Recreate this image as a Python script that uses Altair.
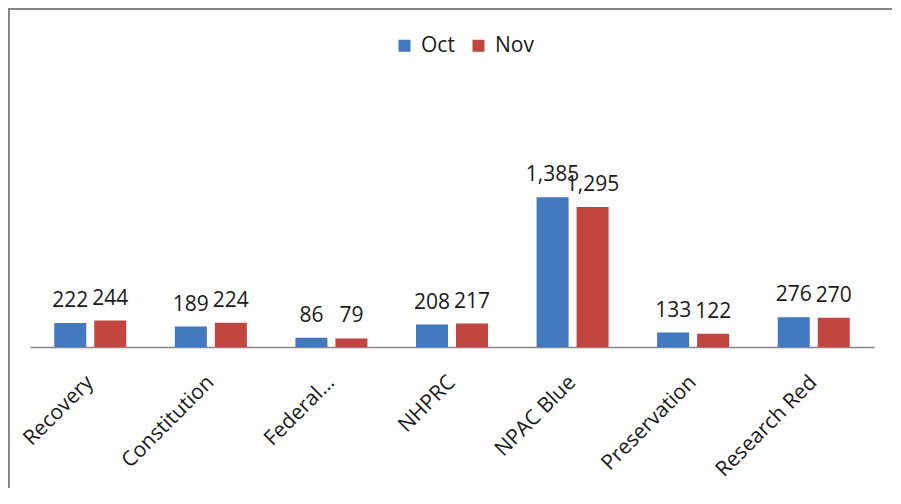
import altair as alt
import pandas as pd

categories = ["Recovery", "Constitution", "Federal…", "NHPRC", "NPAC Blue", "Preservation", "Research Red"]
months = ["Oct", "Nov"]
oct_values = [222, 189, 86, 208, 1385, 133, 276]
nov_values = [244, 224, 79, 217, 1295, 122, 270]
colors = ["#4279BE", "#C0463F"]

rows = []
for c, o, n in zip(categories, oct_values, nov_values):
    rows.append({"category": c, "month": "Oct", "value": o})
    rows.append({"category": c, "month": "Nov", "value": n})
df = pd.DataFrame(rows)

FONT = "Open Sans"

x_enc = alt.X(
    "category:N",
    sort=categories,
    title=None,
    scale=alt.Scale(paddingInner=0.3365, paddingOuter=0.168),
    axis=alt.Axis(
        labelAngle=-45,
        labelAlign="right",
        labelBaseline="middle",
        labelFont=FONT,
        labelFontSize=21,
        labelColor="#1a1a1a",
        labelPadding=32,
        ticks=False,
        domainColor="#868686",
        domainWidth=1.5,
        grid=False,
    ),
)
xo_enc = alt.XOffset("month:N", sort=months, scale=alt.Scale(paddingInner=0.2, paddingOuter=0.1))
y_enc = alt.Y("value:Q", scale=alt.Scale(domain=[0, 1600]), axis=None)

bars = alt.Chart(df).mark_bar().encode(
    x=x_enc,
    xOffset=xo_enc,
    y=y_enc,
    color=alt.Color(
        "month:N",
        sort=months,
        scale=alt.Scale(domain=months, range=colors),
        legend=alt.Legend(
            title=None,
            orient="none",
            direction="horizontal",
            legendX=364,
            legendY=-139,
            symbolType="square",
            symbolSize=144,
            symbolStrokeWidth=0,
            labelFont=FONT,
            labelFontSize=21,
            labelColor="#1a1a1a",
            labelOffset=6,
            columnPadding=13,
            padding=0,
        ),
    ),
)

labels = alt.Chart(df).mark_text(
    baseline="alphabetic", dy=-16, font=FONT, fontSize=21, color="#1a1a1a"
).encode(
    x=alt.X("category:N", sort=categories),
    xOffset=alt.XOffset("month:N", sort=months),
    y=alt.Y("value:Q"),
    text=alt.Text("value:Q", format=","),
)

frame_df = pd.DataFrame({"k": [0]})
top_border = alt.Chart(frame_df).mark_rule(color="#868686", strokeWidth=2).encode(
    x=alt.value(-22), x2=alt.value(862), y=alt.value(-165)
)
left_border = alt.Chart(frame_df).mark_rule(color="#868686", strokeWidth=2).encode(
    x=alt.value(-21), y=alt.value(-166), y2=alt.value(314)
)

chart = alt.layer(bars, labels, top_border, left_border).properties(
    width=844,
    height=173,
    background="white",
    autosize=alt.AutoSizeParams(type="none"),
    padding={"left": 22, "top": 166, "right": 18, "bottom": 141},
).configure_view(strokeWidth=0, stroke="transparent")

chart.save("out.html", embed_options={"renderer": "svg", "actions": False})
